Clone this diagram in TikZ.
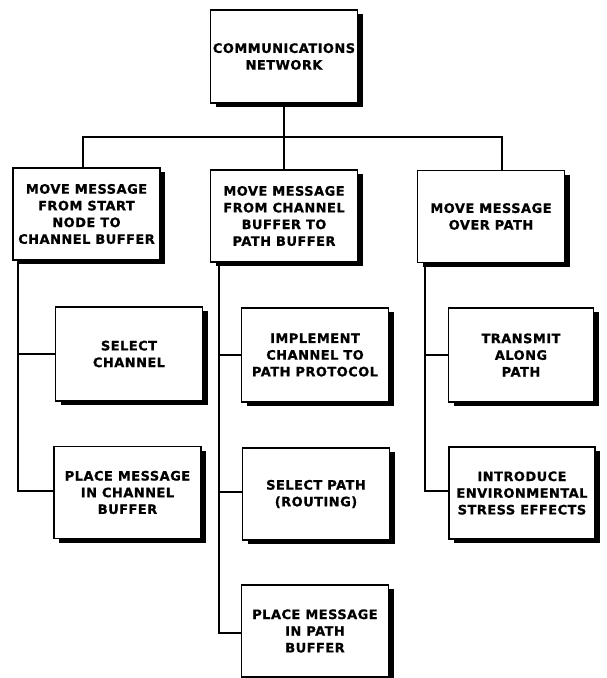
\documentclass[tikz,border=0pt]{standalone}
\usepackage{fontspec}
\setmainfont{DejaVu Sans}[LetterSpace=3.5, FakeBold=0.8]
\usetikzlibrary{shadows}
\begin{document}
\begin{tikzpicture}[x=1pt,y=-1pt,
  box/.style={draw=black, line width=1.5pt, fill=white, rectangle,
    inner sep=0pt, align=center,
    minimum width=147pt, minimum height=92pt,
    font=\fontsize{13}{16.7}\selectfont\bfseries,
    drop shadow={shadow xshift=5pt, shadow yshift=-4pt, fill=black, opacity=1}},
  link/.style={draw=black, line width=2pt}]
\useasboundingbox (0,0) rectangle (607,678);

% top level
\node[box, minimum height=93pt] (top) at (284,56.5)
  {COMMUNICATIONS\\NETWORK};

% second level
\node[box] (b1) at (86.5,214) {MOVE MESSAGE\\FROM START\\NODE TO\\CHANNEL BUFFER};
\node[box] (b2) at (284,216) {MOVE MESSAGE\\FROM CHANNEL\\BUFFER TO\\PATH BUFFER};
\node[box] (b3) at (491,216.5) {MOVE MESSAGE\\OVER PATH};

% third level, first row
\node[box, minimum height=94pt] (r1a) at (129,354) {SELECT\\CHANNEL};
\node[box, minimum height=94pt] (r1b) at (315,355) {IMPLEMENT\\CHANNEL TO\\PATH PROTOCOL};
\node[box, minimum height=94pt, minimum width=145pt] (r1c) at (521,355) {TRANSMIT\\ALONG\\PATH};

% third level, second row
\node[box] (r2a) at (127.5,492.5) {PLACE MESSAGE\\IN CHANNEL\\BUFFER};
\node[box] (r2b) at (316,494) {SELECT PATH\\(ROUTING)};
\node[box, minimum width=146pt] (r2c) at (522,493) {INTRODUCE\\ENVIRONMENTAL\\STRESS EFFECTS};

% third level, third row
\node[box] (r3) at (315,631) {PLACE MESSAGE\\IN PATH\\BUFFER};

% bus under the top box
\coordinate (bus) at (284,137);
\draw[link] (top.south) -- (bus) -- (b2.north);
\draw[link] ([xshift=-3.5pt]b1.north) |- (bus);
\draw[link] ([xshift=11pt]b3.north) |- (bus);

% spines down the left side of each branch
\coordinate (s1) at ([xshift=5.5pt]b1.south west);
\coordinate (s2) at ([xshift=9pt]b2.south west);
\coordinate (s3) at ([xshift=8pt]b3.south west);
\draw[link] (s1) |- (r1a.west);
\draw[link] (s1) |- ([yshift=2pt]r2a.west);
\draw[link] (s2) |- (r1b.west);
\draw[link] (s2) |- ([yshift=2pt]r2b.west);
\draw[link] (s2) |- ([yshift=-2pt]r3.west);
\draw[link] (s3) |- (r1c.west);
\draw[link] (s3) |- ([yshift=2pt]r2c.west);
\end{tikzpicture}
\end{document}
